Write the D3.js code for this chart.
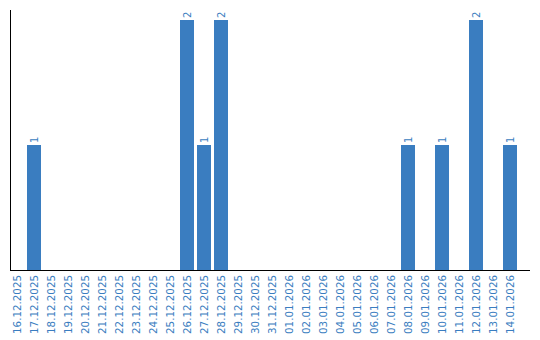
<!DOCTYPE html>
<html>
<head>
<meta charset="utf-8">
<script src="https://cdn.jsdelivr.net/npm/d3@7"></script>
<style>
  body { margin: 0; background: #fff; }
  text { font-family: "DejaVu Sans", sans-serif; fill: #3a7dc0; }
</style>
</head>
<body>
<div id="chart"></div>
<script>
const dates = [
  "16.12.2025", "17.12.2025", "18.12.2025", "19.12.2025", "20.12.2025",
  "21.12.2025", "22.12.2025", "23.12.2025", "24.12.2025", "25.12.2025",
  "26.12.2025", "27.12.2025", "28.12.2025", "29.12.2025", "30.12.2025",
  "31.12.2025", "01.01.2026", "02.01.2026", "03.01.2026", "04.01.2026",
  "05.01.2026", "06.01.2026", "07.01.2026", "08.01.2026", "09.01.2026",
  "10.01.2026", "11.01.2026", "12.01.2026", "13.01.2026", "14.01.2026"
];
const counts = [
  0, 1, 0, 0, 0,
  0, 0, 0, 0, 0,
  2, 1, 2, 0, 0,
  0, 0, 0, 0, 0,
  0, 0, 0, 1, 0,
  1, 0, 2, 0, 1
];

const data = dates.map((d, i) => ({ date: d, count: counts[i] }));

const width = 540, height = 340;
const margin = { top: 20, right: 20, bottom: 70, left: 10 };

const svg = d3.select("#chart").append("svg")
  .attr("width", width)
  .attr("height", height);

const xscale = d3.scaleBand()
  .domain(dates)
  .range([margin.left, margin.left + 17 * dates.length - 3])
  .paddingInner(3 / 17)
  .paddingOuter(0);

const yscale = d3.scaleLinear()
  .domain([0, d3.max(counts)])
  .range([height - margin.bottom, margin.top]);

// bars
svg.append("g").selectAll("rect")
  .data(data.filter(d => d.count > 0))
  .join("rect")
  .attr("x", d => xscale(d.date))
  .attr("y", d => yscale(d.count))
  .attr("width", xscale.bandwidth())
  .attr("height", d => yscale(0) - yscale(d.count))
  .attr("fill", "#3a7dc0");

// value labels
svg.append("g").selectAll("text")
  .data(data.filter(d => d.count > 0))
  .join("text")
  .text(d => d.count)
  .attr("font-size", 10)
  .attr("text-anchor", "start")
  .attr("transform", d => "translate(" + (xscale(d.date) + xscale.bandwidth() / 2 + 3.5) + "," + (yscale(d.count) - 2) + ") rotate(-90)");

// axes lines
const base = yscale(0);
svg.append("line")
  .attr("x1", margin.left + 0.5).attr("x2", margin.left + 0.5)
  .attr("y1", 10).attr("y2", base)
  .attr("stroke", "#000");
svg.append("line")
  .attr("x1", margin.left).attr("x2", width - 10)
  .attr("y1", base + 0.5).attr("y2", base + 0.5)
  .attr("stroke", "#000");

// x labels
svg.append("g").selectAll("text")
  .data(dates)
  .join("text")
  .text(d => d)
  .attr("font-size", 10.3)
  .attr("text-anchor", "end")
  .attr("transform", d => "translate(" + (xscale(d) + xscale.bandwidth() / 2 + 3.5) + "," + (base + 5) + ") rotate(-90)");
</script>
</body>
</html>
